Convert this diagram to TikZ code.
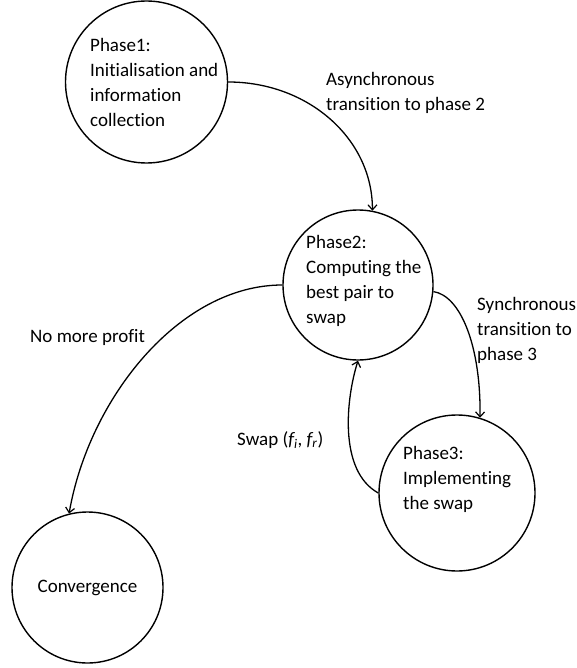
\documentclass[tikz,border=0pt]{standalone}
\usepackage{fontspec}
\setmainfont{Carlito}[Ligatures=NoCommon]
\usetikzlibrary{arrows.meta}
\begin{document}
\begin{tikzpicture}[x=1pt,y=-1pt,
  state/.style={circle,draw,line width=1.4pt,inner sep=0pt},
  txt/.style={anchor=base west,inner sep=0pt,align=left,font=\fontsize{19}{25}\selectfont},
  edge/.style={line width=1.3pt,-{Straight Barb[length=5pt,width=9pt,line width=1.2pt]}}]
\useasboundingbox (0,0) rectangle (576,668);
% states
\node[state,minimum size=162pt] (p1) at (146.5,82) {};
\node[state,minimum size=150pt] (p2) at (358,285) {};
\node[state,minimum size=156pt] (p3) at (457,493) {};
\node[state,minimum size=151pt,font=\fontsize{19}{25}\selectfont] (cv) at (87.5,587.5) {Convergence};
% state texts (anchor = baseline of last line)
\node[txt] (p1t) at (90,127) {Phase1:\\Initialisation and\\information\\collection};
\node[txt] (p2t) at (306,323) {Phase2:\\Computing the\\best pair to\\swap};
\node[txt] (p3t) at (403,509) {Phase3:\\Implementing\\the swap};
% edge labels
\node[txt] (l12) at (326,111) {Asynchronous\\transition to phase 2};
\node[txt] (l23) at (477,360) {Synchronous\\transition to\\phase 3};
\node[txt] (lnp) at (30,342) {No more profit};
\node[txt] (lsw) at (237,445) {Swap (\textit{f\textsubscript{i}}, \textit{f\textsubscript{r}})};
% edges
\draw[edge] (p1.east) .. controls +(80,0) and +(0,-72) .. (p2.79);
\draw[edge] (p2.-5) .. controls +(27,4) and +(1,-72) .. (p3.73);
\draw[edge] (p3.west) .. controls +(-40,-22) and +(-12,38) .. (p2.south);
\draw[edge] (p2.west) .. controls +(-103,0) and +(20,-115) .. (cv.104);
\end{tikzpicture}
\end{document}
